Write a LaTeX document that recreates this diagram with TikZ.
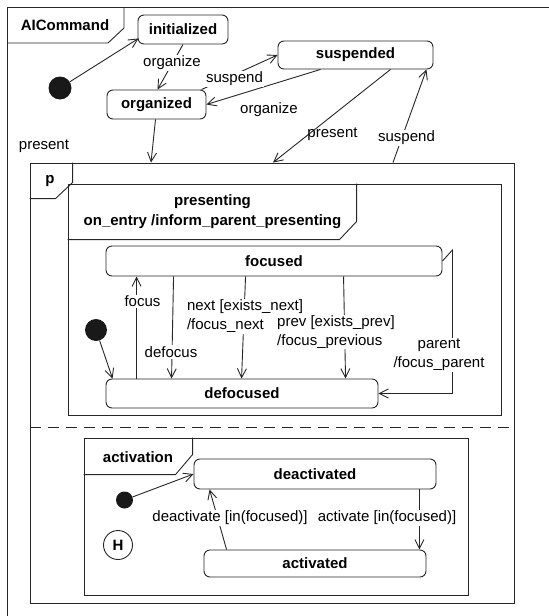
\documentclass[tikz,border=0pt]{standalone}
\usepackage{fontspec}
\setmainfont{Liberation Sans}
\usetikzlibrary{arrows.meta,calc}
\begin{document}
\begin{tikzpicture}[x=1pt,y=-1pt,
  every node/.style={font=\fontsize{15}{19}\selectfont},
  ln/.style={line width=0.9pt, draw=black!85},
  state/.style={ln, draw, rounded corners=6pt, inner sep=0pt, font=\fontsize{15}{19}\selectfont\bfseries},
  framebox/.style={ln, draw, rectangle, inner sep=0pt},
  initdot/.style={circle, fill=black!90, inner sep=0pt},
  tr/.style={ln, -{Straight Barb[length=9pt,width=9pt]}},
  lbl/.style={inner sep=1pt},
  lblw/.style={lbl, fill=white},
  tabtext/.style={inner sep=0pt, font=\fontsize{15}{20}\selectfont\bfseries},
]
\useasboundingbox (0,0) rectangle (549,616);
% outer frame AICommand
\coordinate (outer) at (7,7);
\draw[ln] (7,616) -- (outer) -- (549,7);
\draw[ln] ($(outer)+(117,0)$) -- ++(0,21) -- ++(-16,15) -- ($(outer)+(0,36)$);
\node[tabtext] (tA) at (65,25) {AICommand};

% frames
\node[framebox, minimum width=484pt, minimum height=440pt] (p) at (272,383) {};
\node[framebox, minimum width=433pt, minimum height=231pt] (pres) at (284.5,299.5) {};
\node[framebox, minimum width=384pt, minimum height=157pt] (actv) at (276,516.5) {};
\draw[ln] ($(p.north west)+(43,0)$) -- ++(0,20) -- ++(-17,16) -- ($(p.north west)+(0,36)$);
\draw[ln] ($(pres.north west)+(289,0)$) -- ++(0,38) -- ++(-17,18) -- ($(pres.north west)+(0,56)$);
\draw[ln] ($(actv.north west)+(109,0)$) -- ++(0,17) -- ++(-17,20) -- ($(actv.north west)+(0,37)$);
\node[tabtext] (tp) at (50,181) {p};
\node[tabtext, align=center] (tpres) at (212.5,212) {presenting\\on\_entry /inform\_parent\_presenting};
\node[tabtext] (tact) at (138,457) {activation};
\draw[ln, dash pattern=on 11pt off 7pt] ($(p.west)+(0,44)$) -- ($(p.east)+(0,44)$);

% states
\node[state, minimum width=90pt, minimum height=29pt] (init) at (183,29.5) {initialized};
\node[state, minimum width=99pt, minimum height=29pt] (org) at (156.5,104.5) {organized};
\node[state, minimum width=155pt, minimum height=28pt] (susp) at (355.5,55) {suspended};
\node[state, minimum width=336pt, minimum height=30pt] (foc) at (274,261) {focused};
\node[state, minimum width=272pt, minimum height=29pt] (defoc) at (242,393.5) {defocused};
\node[state, minimum width=242pt, minimum height=30pt] (deact) at (315,474) {deactivated};
\node[state, minimum width=222pt, minimum height=27pt] (act) at (315,563.5) {activated};

% pseudo states
\node[initdot, minimum size=23pt] (d1) at (60,88) {};
\node[initdot, minimum size=22pt] (d2) at (96,330) {};
\node[initdot, minimum size=17pt] (d3) at (124.5,500) {};
\node[ln, draw, circle, minimum size=29pt, inner sep=0pt, font=\fontsize{15}{19}\selectfont\bfseries] (hist) at (118,545) {H};

% transitions
\draw[tr] (d1) -- ($(init.south west)+(1,-6)$);
\draw[tr] (init.south) -- ($(org.north)+(1,0)$);
\draw[tr] ($(org.north east)+(-5,0)$) -- (susp.west);
\draw[tr] ($(susp.south)+(-35,0)$) -- (org.east);
\draw[tr] ($(org.south)+(-1,0)$) -- ($(p.north)+(-121,0)$);
\draw[tr] ($(susp.south)+(35,0)$) -- ($(p.north)+(1,0)$);
\draw[tr] ($(p.north)+(121,0)$) -- ($(susp.south east)+(-7,0)$);

\draw[tr] (d2) -- ($(defoc.north west)+(7,0)$);
\draw[tr] ($(defoc.north west)+(31,0)$) -- ($(foc.south west)+(31,0)$);
\draw[tr] ($(foc.south west)+(68,0)$) -- ($(defoc.north west)+(66,0)$);
\draw[tr] ($(foc.south west)+(140,0)$) -- ($(defoc.north west)+(136,0)$);
\draw[tr] ($(foc.south west)+(238,0)$) -- ($(defoc.north west)+(240,0)$);
\draw[tr] (foc.east) -- ++(10,-11) |- (defoc.east);

\draw[tr] (d3) -- (deact.west);
\draw[tr] ($(act.north west)+(23,0)$) -- ($(deact.south west)+(16,0)$);
\draw[tr] ($(deact.south east)+(-17,0)$) -- ($(act.north east)+(-7,0)$);

% labels
\node[lblw] (l1) at (172,63) {organize};
\node[lblw] (l2) at (234.5,79) {suspend};
\node[lbl] (l3) at (269,110) {organize};
\node[lbl] (l4) at (44,146) {present};
\node[lbl] (l5) at (332.5,134) {present};
\node[lblw] (l6) at (406.5,138) {suspend};
\node[lblw] (l7) at (142.5,301) {focus};
\node[lblw] (l8) at (171,352) {defocus};
\node[lblw, align=left] (l9) at (245,316.5) {next [exists\_next]\\/focus\_next};
\node[lblw, align=left] (l10) at (336,332) {prev [exists\_prev]\\/focus\_previous};
\node[lblw, align=center] (l11) at (439,355) {parent\\/focus\_parent};
\node[lblw] (l12) at (230,518) {deactivate [in(focused)]};
\node[lblw] (l13) at (387,518) {activate [in(focused)]};
\end{tikzpicture}
\end{document}
